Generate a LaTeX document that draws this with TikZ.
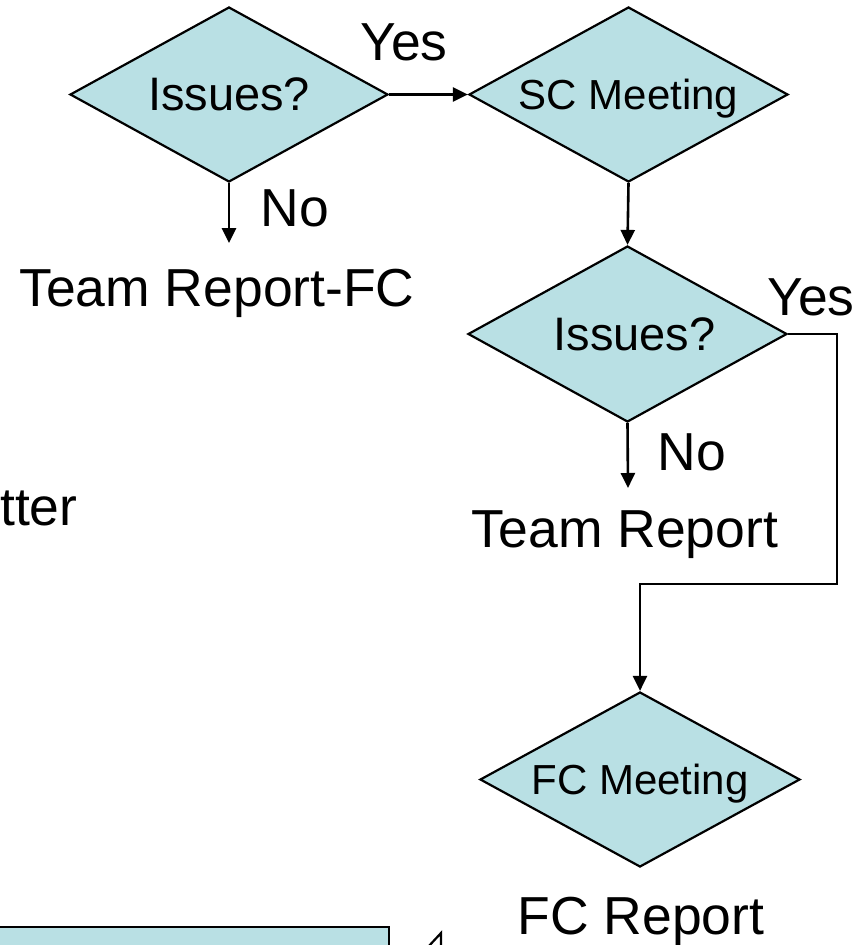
\documentclass[tikz,border=0pt]{standalone}
\usepackage{fontspec}
\setmainfont{Liberation Sans}
\usetikzlibrary{shapes.geometric,arrows.meta}
\definecolor{dfill}{RGB}{185,224,228}
\tikzset{
  dec/.style={diamond, aspect=1.82, draw=black, line width=2.2pt, fill=dfill, inner sep=0pt, text depth=0pt, font=\fontsize{42}{48}\selectfont},
  bigtxt/.style={anchor=base, inner sep=0pt, font=\fontsize{53.5}{60}\selectfont},
  conn/.style={line width=2.6pt, -{Triangle[length=15pt,width=14pt]}},
}
\begin{document}
\begin{tikzpicture}[x=1pt,y=-1pt]
\clip (0,0) rectangle (867,945);
\useasboundingbox (0,0) rectangle (867,945);
% diamonds
\node[dec, minimum width=318pt, minimum height=175pt, font=\fontsize{47}{52}\selectfont] (d1) at (229,94.5) {Issues?};
\node[dec, minimum width=319pt, minimum height=175pt] (d2) at (628.5,94.5) {SC Meeting};
\node[dec, minimum width=319pt, minimum height=176pt, font=\fontsize{47}{52}\selectfont] (d3) at (627.5,334) {\hspace*{14pt}Issues?};
\node[dec, minimum width=320pt, minimum height=175pt] (d4) at (640,779.5) {FC Meeting};
% texts
\node[bigtxt] (yes1) at (404,60) {Yes};
\node[bigtxt] (no1) at (295,226) {No};
\node[bigtxt] (trfc) at (217,306) {Team Report-FC};
\node[bigtxt] (yes2) at (811,315) {Yes};
\node[bigtxt] (no2) at (692,470) {No};
\node[bigtxt] (tr) at (625,547) {Team Report};
\node[bigtxt] (fcr) at (641,934) {FC Report};
\node[bigtxt, anchor=base west] (tter) at (0,525) {tter};
% connector end points
\coordinate (e1) at (229,243);
\coordinate (e3) at (628,488);
\coordinate (c1) at (837,334);
\coordinate (c2) at (837,584);
\coordinate (c3) at (640,584);
% connectors
\draw[conn] (d1.east) -- (d2.west);
\draw[conn] (d1.south) -- (e1);
\draw[conn] (d2.south) -- (d3.north);
\draw[conn] (d3.south) -- (e3);
\draw[conn] (d3.east) -- (c1) -- (c2) -- (c3) -- (d4.north);
% bottom shapes (cut off)
\draw[line width=2.6pt, fill=dfill] (-5,927) rectangle (389,960);
\draw[line width=2.2pt] (428,947) -- (441,933) -- (441,947);
\end{tikzpicture}
\end{document}
